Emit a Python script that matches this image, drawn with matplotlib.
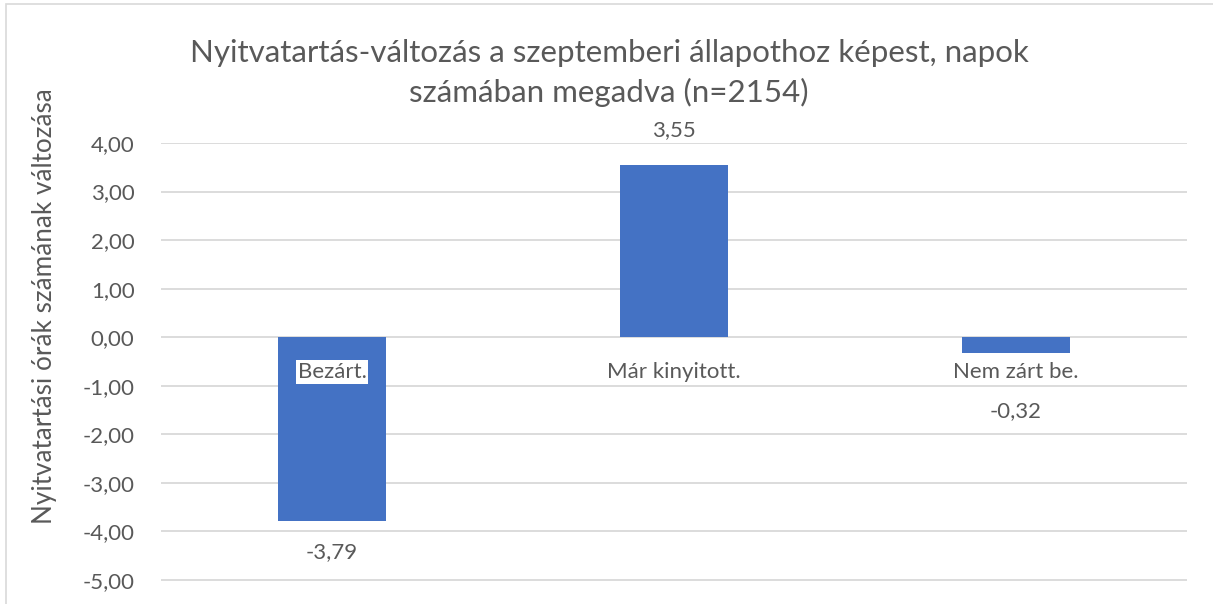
import matplotlib
matplotlib.use("Agg")
import matplotlib.pyplot as plt
from matplotlib.patches import Rectangle

categories = ["Bezárt.", "Már kinyitott.", "Nem zárt be."]
values = [-3.79, 3.55, -0.32]
value_labels = ["-3,79", "3,55", "-0,32"]
yticks = [4, 3, 2, 1, 0, -1, -2, -3, -4, -5]
ytick_labels = ["4,00", "3,00", "2,00", "1,00", "0,00", "-1,00", "-2,00", "-3,00", "-4,00", "-5,00"]
title = "Nyitvatartás-változás a szeptemberi állapothoz képest, napok\nszámában megadva (n=2154)"
ylabel = "Nyitvatartási órák számának változása"

W, H = 1213, 604
fig = plt.figure(figsize=(W / 100, H / 100), dpi=100)
plt.rcParams['font.family'] = ['Lato', 'DejaVu Sans']
txt = "#595959"
fs = 16

# outer chart border
fig.patches.append(Rectangle((6 / W, -0.1), 1.2, 1 - 4 / H + 0.1, transform=fig.transFigure,
                             fill=False, edgecolor="#d9d9d9", linewidth=1.2))

ax = fig.add_axes([161 / W, 1 - 604 / H, (1187 - 161) / W, (604 - 143) / H])
ppu = (580 - 143) / 9.0
ymin = -5 - (604 - 580) / ppu
ax.set_ylim(ymin, 4)
ax.set_xlim(-0.5, 2.5)

for y in yticks:
    ax.axhline(y, color="#d9d9d9", linewidth=1.3, zorder=0)

x = range(len(categories))
ax.bar(x, values, width=0.316, color="#4472C4", zorder=2)

ax.set_yticks(yticks)
ax.set_yticklabels(ytick_labels, fontsize=fs, color=txt)
ax.tick_params(axis="y", length=0, pad=19)
ax.set_xticks([])
for s in ax.spines.values():
    s.set_visible(False)

for i, c in enumerate(categories):
    ax.text(i, -0.72, c, ha="center", va="center", fontsize=fs, color=txt, zorder=3,
            bbox=dict(facecolor="white", edgecolor="none", pad=1.5))

offsets_pt = [-22, 25, -42]
for i, (v, lab) in enumerate(zip(values, value_labels)):
    ax.annotate(lab, (i, v), xytext=(0, offsets_pt[i]), textcoords="offset points",
                ha="center", va="center", fontsize=fs, color=txt, zorder=3)

fig.text(609 / W, 1 - 73 / H, title, ha="center", va="center", fontsize=22.5, color=txt,
         linespacing=1.42)
fig.text(45 / W, 1 - 306 / H, ylabel, ha="center", va="center", rotation=90, fontsize=18.8,
         color=txt)

fig.savefig("out.png", dpi=100)
